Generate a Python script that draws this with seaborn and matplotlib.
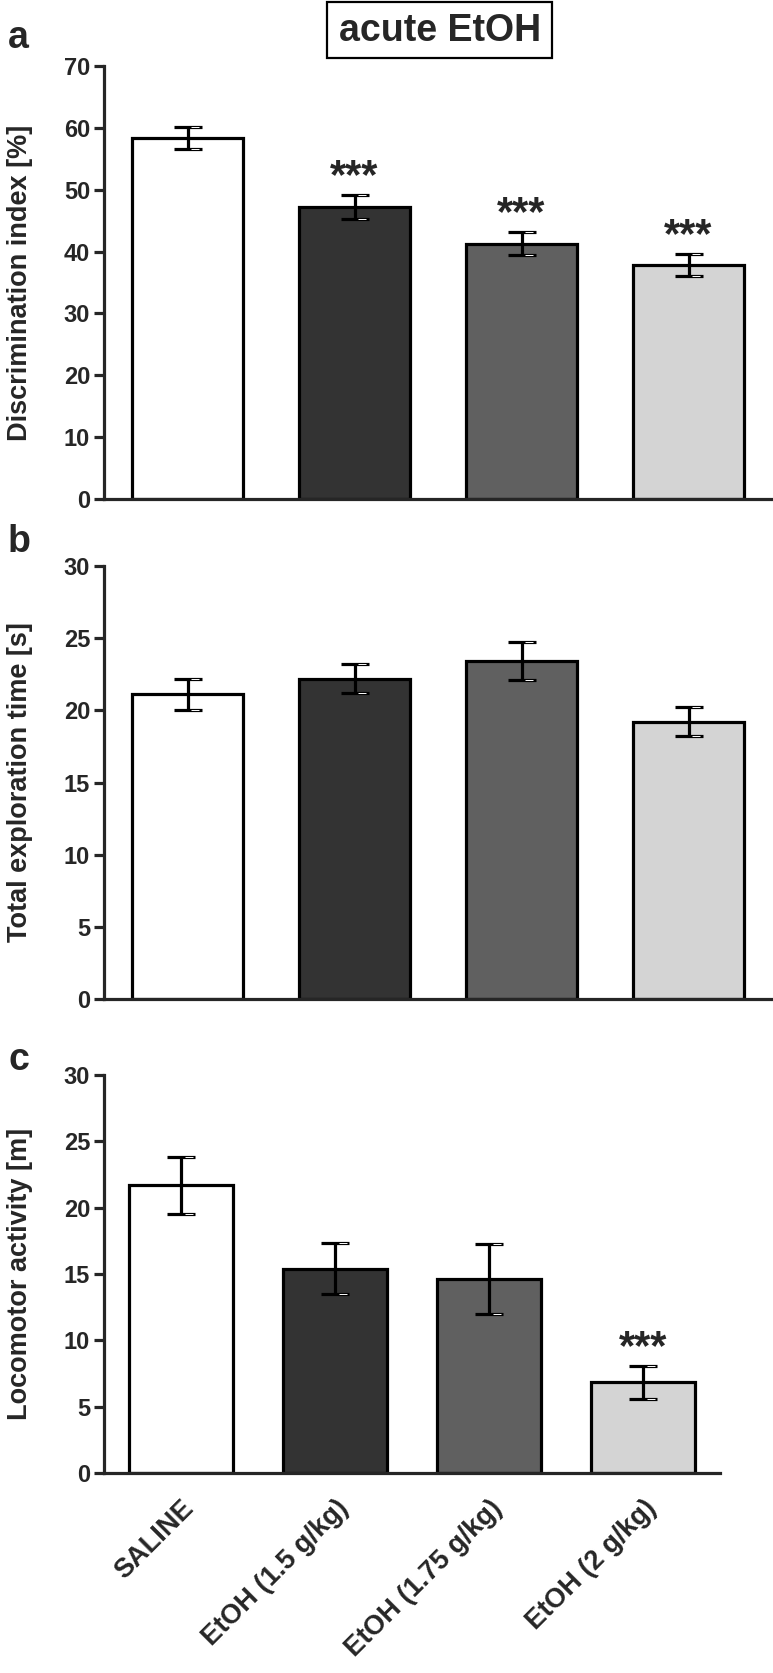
import numpy as np
import pandas as pd
import seaborn as sns
import matplotlib.pyplot as plt
from matplotlib.patches import Rectangle

# ---- data ----
groups = ["SALINE", "EtOH (1.5 g/kg)", "EtOH (1.75 g/kg)", "EtOH (2 g/kg)"]
bar_colors = ["#ffffff", "#333333", "#606060", "#d4d4d4"]

disc_index = [58.4, 47.2, 41.3, 37.8]
disc_sem = [1.8, 1.9, 1.8, 1.8]
disc_stars = ["", "***", "***", "***"]

explor_time = [21.1, 22.2, 23.4, 19.2]
explor_sem = [1.1, 1.0, 1.3, 1.0]
explor_stars = ["", "", "", ""]

locomotor = [21.7, 15.4, 14.6, 6.85]
locomotor_sem = [2.15, 1.9, 2.65, 1.25]
locomotor_stars = ["", "", "", "***"]

sns.set_style("ticks")
plt.rcParams["font.family"] = ["Liberation Sans", "DejaVu Sans"]

W, H = 773, 1673
fig = plt.figure(figsize=(W / 100, H / 100), dpi=100)

# rect in pixels: left, top, right, bottom of the plotting area
panels = [
    ((104, 66, 772, 499), disc_index, disc_sem, disc_stars, 70, 10,
     "Discrimination index [%]", "a", 48),
    ((104, 566, 772, 999), explor_time, explor_sem, explor_stars, 30, 5,
     "Total exploration time [s]", "b", 552),
    ((104, 1075, 720, 1473), locomotor, locomotor_sem, locomotor_stars, 30, 5,
     "Locomotor activity [m]", "c", 1070),
]

lw = 2.3
for i, (px, vals, sem, stars, ymax, step, ylab, letter, letter_y) in enumerate(panels):
    l, t, r, b = px
    ax = fig.add_axes([l / W, 1 - b / H, (r - l) / W, (b - t) / H])
    df = pd.DataFrame({"group": groups, "value": vals})
    sns.barplot(data=df, x="group", y="value", hue="group", palette=bar_colors,
                width=0.67, edgecolor="black", linewidth=lw, legend=False, ax=ax)
    xs = np.arange(len(vals))
    ax.errorbar(xs, vals, yerr=sem, fmt="none", ecolor="black",
                elinewidth=lw, capsize=10, capthick=lw, zorder=5)
    # light streak on the right half of each cap, as in the original rendering
    half = 12.5 / (r - l) * 4
    for x, v, e in zip(xs, vals, sem):
        for yy in (v + e, v - e):
            ax.plot([x + half * 0.3, x + half * 0.95], [yy, yy], color="white",
                    lw=0.7, solid_capstyle="butt", zorder=6)
    for x, (v, e, s) in enumerate(zip(vals, sem, stars)):
        if s:
            ax.annotate(s, (x, v + e), xytext=(0, 5), textcoords="offset points",
                        ha="center", va="baseline", fontsize=30, fontweight="bold")
    ax.set_xlim(-0.5, 3.5)
    ax.set_ylim(0, ymax)
    ax.set_yticks(np.arange(0, ymax + 1, step))
    sns.despine(ax=ax)
    for sp in ["left", "bottom"]:
        ax.spines[sp].set_linewidth(lw)
    ax.tick_params(axis="y", direction="out", length=7, width=lw, pad=3,
                   labelsize=17)
    ax.tick_params(axis="x", length=0)
    for tl in ax.get_yticklabels():
        tl.set_fontweight("bold")
    ax.set_xlabel("")
    ax.set_ylabel(ylab, fontsize=19.5, fontweight="bold")
    ax.yaxis.set_label_coords((33 - l) / (r - l), 0.5)
    if i < 2:
        ax.set_xticklabels([])
    else:
        ax.set_xticks(range(len(groups)))
        ax.set_xticklabels(groups, rotation=45, ha="right", rotation_mode="anchor",
                           fontsize=19.5, fontweight="bold")
        ax.tick_params(axis="x", pad=16)
    fig.text(8 / W, 1 - letter_y / H, letter, fontsize=27,
             fontweight="bold", va="baseline", ha="left")

# title box
fig.patches.append(Rectangle((327 / W, 1 - 58 / H), 225 / W, 56 / H,
                             transform=fig.transFigure, facecolor="white",
                             edgecolor="black", linewidth=1.6))
fig.text(440 / W, 1 - 31 / H, "acute EtOH", ha="center", va="center",
         fontsize=27, fontweight="bold")

fig.savefig("out.png", dpi=100)
